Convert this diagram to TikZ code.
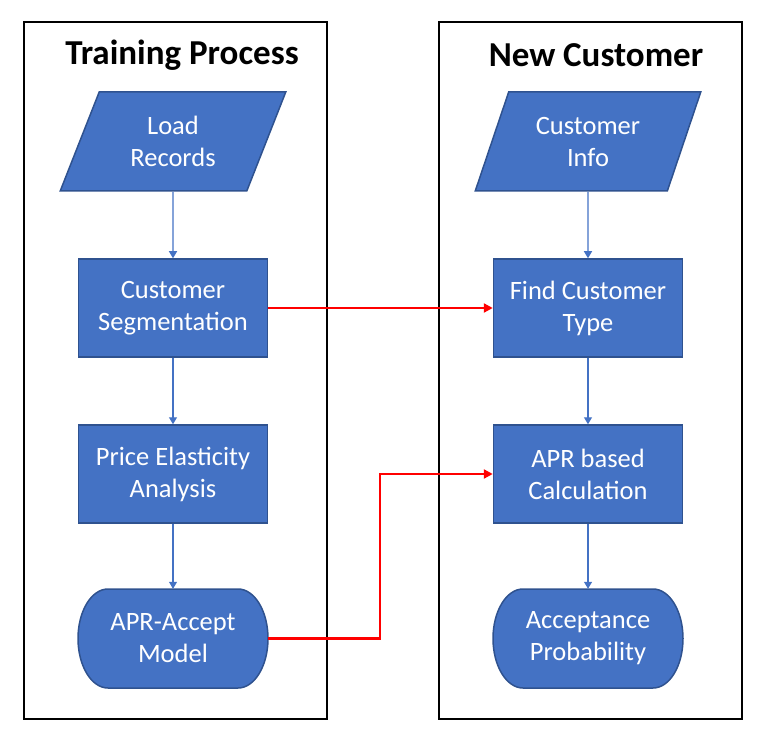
\documentclass[tikz,border=0pt]{standalone}
\usepackage{fontspec}
\setmainfont{Carlito}
\usetikzlibrary{shapes.geometric,arrows.meta}
\definecolor{boxblue}{HTML}{4472C4}
\definecolor{boxedge}{HTML}{2F528F}
\tikzset{
  box/.style={draw=boxedge,line width=1.5pt,fill=boxblue},
  txt/.style={text=white,align=center,font=\fontsize{26.5}{32}\selectfont,inner sep=0pt},
  proc/.style={box,txt,rectangle,minimum width=189,minimum height=98},
  io/.style={box,txt,trapezium,trapezium left angle=66,trapezium right angle=114,
    trapezium stretches=true,minimum width=226,minimum height=99},
  term/.style={txt,minimum width=190,minimum height=99},
  flow/.style={draw=boxblue,line width=1.2pt,-{Triangle[length=7pt,width=8pt]}},
  link/.style={draw=red,line width=2.5pt,-{Triangle[length=9pt,width=9pt]}},
  title/.style={font=\fontsize{35}{40}\selectfont\bfseries}
}
\begin{document}
\begin{tikzpicture}[x=1pt,y=1pt]
  \useasboundingbox (0,0) rectangle (773,745);
  % frames
  \draw[line width=2.2pt] (24,26) rectangle (327,723);
  \draw[line width=2.2pt] (439,26) rectangle (742,723);
  \node[title] (ttrain) at (182,690) {Training Process};
  \node[title] (tnew) at (596,690) {New Customer};

  % training process
  \node[io] (load) at (173,603.5) {Load\\Records};
  \node[proc] (seg) at (173,437) {Customer\\Segmentation};
  \node[proc] (elast) at (173,271) {Price Elasticity\\Analysis};
  \draw[box] (108,156) -- (238,156) arc[start angle=90,end angle=-90,x radius=30,y radius=49.5]
    -- (108,57) arc[start angle=270,end angle=90,x radius=30,y radius=49.5] -- cycle;
  \node[term] (model) at (173,106.5) {APR-Accept\\Model};

  % new customer
  \node[io] (info) at (588,603.5) {Customer\\Info};
  \node[proc] (find) at (588,437) {Find Customer\\Type};
  \node[proc] (calc) at (588,271) {APR based\\Calculation};
  \draw[box] (523,156) -- (653,156) arc[start angle=90,end angle=-90,x radius=30,y radius=49.5]
    -- (523,57) arc[start angle=270,end angle=90,x radius=30,y radius=49.5] -- cycle;
  \node[term] (prob) at (588,106.5) {Acceptance\\Probability};

  \draw[flow] (load.south) -- (seg.north);
  \draw[flow] (seg.south) -- (elast.north);
  \draw[flow] (elast.south) -- (model.north);
  \draw[flow] (info.south) -- (find.north);
  \draw[flow] (find.south) -- (calc.north);
  \draw[flow] (calc.south) -- (prob.north);

  \draw[link] (seg.east) -- (find.west);
  \draw[link] (model.east) -- ++(112,0) |- (calc.west);
\end{tikzpicture}
\end{document}
